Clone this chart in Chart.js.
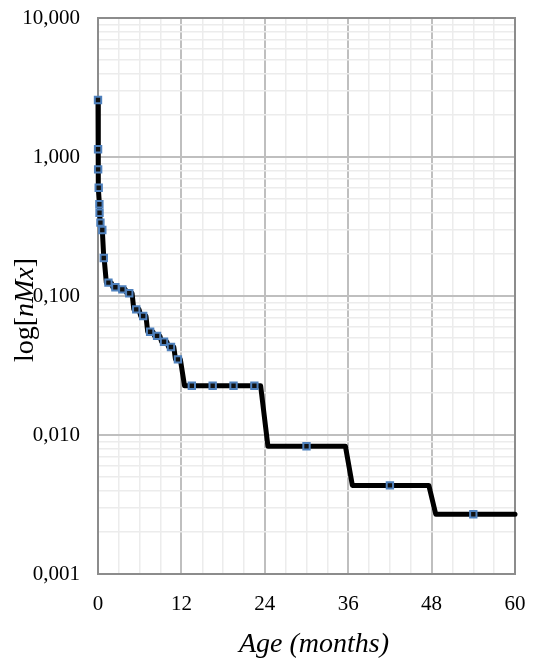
<!DOCTYPE html>
<html><head><meta charset="utf-8">
<script src="https://cdn.jsdelivr.net/npm/chart.js@4/dist/chart.umd.min.js"></script>
<style>html,body{margin:0;padding:0;background:#fff}#wrap{width:537px;height:662px;position:relative}</style>
</head><body><div id="wrap"><canvas id="c" width="537" height="662"></canvas></div>
<script>
// Marker points (age in months, rate nMx)
const markerAges  = [0, 0.01, 0.02, 0.1, 0.2, 0.22, 0.35, 0.62, 0.83, 1.5, 2.5, 3.5, 4.5, 5.5, 6.5, 7.5, 8.5, 9.5, 10.5, 11.5, 13.5, 16.5, 19.5, 22.5, 30, 42, 54];
const markerRates = [2.57, 1.136, 0.815, 0.601, 0.457, 0.397, 0.337, 0.2985, 0.1877, 0.1247, 0.1156, 0.1117, 0.1046, 0.0802, 0.0718, 0.0553, 0.0516, 0.0469, 0.0430, 0.0350, 0.0226, 0.0226, 0.0226, 0.0226, 0.0083, 0.00434, 0.00269];
// Step curve path
const curveAges  = [0, 0.01, 0.02, 0.1, 0.2, 0.22, 0.35, 0.62, 0.83, 0.88, 1.2, 1.9, 2.15, 2.9, 3.15, 3.9, 4.15, 4.9, 5.15, 5.9, 6.15, 6.9, 7.15, 7.9, 8.15, 8.9, 9.15, 9.9, 10.15, 10.9, 11.15, 11.85, 12.45, 23.4, 24.45, 35.6, 36.6, 47.6, 48.6, 60];
const curveRates = [2.57, 1.136, 0.815, 0.601, 0.457, 0.397, 0.337, 0.2985, 0.1877, 0.1877, 0.1247, 0.1247, 0.1156, 0.1156, 0.1117, 0.1117, 0.1046, 0.1046, 0.0802, 0.0802, 0.0718, 0.0718, 0.0553, 0.0553, 0.0516, 0.0516, 0.0469, 0.0469, 0.0430, 0.0430, 0.0350, 0.0350, 0.0226, 0.0226, 0.0083, 0.0083, 0.00434, 0.00434, 0.00269, 0.00269];
// Axis ticks
const xTickValues = [0, 3, 6, 9, 12, 15, 18, 21, 24, 27, 30, 33, 36, 39, 42, 45, 48, 51, 54, 57, 60];
const xTickLabels = ['0', '12', '24', '36', '48', '60'];
const yDecades = [0.001, 0.01, 0.1, 1, 10];
const yTickLabels = ['0,001', '0,010', '0,100', '1,000', '10,000'];
const xTitle = 'Age (months)';

const FONT = '"Liberation Serif", "Times New Roman", serif';
const yTickValues = [];
for (let d = 0; d < yDecades.length - 1; d++) {
  for (let m = 1; m <= 9; m++) yTickValues.push(+(m * yDecades[d]).toPrecision(6));
}
yTickValues.push(yDecades[yDecades.length - 1]);
const isDecade = v => yDecades.some(d => Math.abs(v - d) / d < 1e-6);

const boxPlugin = {
  id: 'box',
  beforeDatasetsDraw(chart) {
    const {ctx, chartArea: a} = chart;
    ctx.save();
    ctx.strokeStyle = '#8c8c8c';
    ctx.lineWidth = 2;
    ctx.strokeRect(a.left, a.top, a.right - a.left, a.bottom - a.top);
    ctx.restore();
  }
};
const titlePlugin = {
  id: 'titles',
  afterDraw(chart) {
    const ctx = chart.ctx;
    ctx.save();
    ctx.fillStyle = '#000';
    ctx.textBaseline = 'alphabetic';
    ctx.textAlign = 'center';
    ctx.font = 'italic 28px ' + FONT;
    ctx.fillText(xTitle, 314, 652);
    const parts = [['log[', 'normal'], ['nMx', 'italic'], [']', 'normal']];
    ctx.translate(26, 310);
    ctx.rotate(-Math.PI / 2);
    ctx.textBaseline = 'middle';
    ctx.textAlign = 'left';
    let total = 0;
    const widths = parts.map(p => { ctx.font = p[1] + ' 28px ' + FONT; const w = ctx.measureText(p[0]).width; total += w; return w; });
    let x = -total / 2;
    parts.forEach((p, i) => { ctx.font = p[1] + ' 28px ' + FONT; ctx.fillText(p[0], x, 0); x += widths[i]; });
    ctx.restore();
  }
};

new Chart(document.getElementById('c'), {
  type: 'scatter',
  data: {
    datasets: [
      {
        data: markerAges.map((x, i) => ({x, y: markerRates[i]})),
        showLine: false, pointStyle: 'rect', pointRadius: 4.5,
        backgroundColor: '#111', borderColor: '#4f81bd', borderWidth: 2, clip: false
      },
      {
        data: curveAges.map((x, i) => ({x, y: curveRates[i]})),
        showLine: true, borderColor: '#000', borderWidth: 5, pointRadius: 0,
        borderJoinStyle: 'round', borderCapStyle: 'round', tension: 0, clip: false
      }
    ]
  },
  options: {
    responsive: false, animation: false, devicePixelRatio: 1, events: [],
    plugins: {legend: {display: false}, tooltip: {enabled: false}},
    layout: {padding: {top: 18, right: 22, left: 0, bottom: 0}},
    scales: {
      x: {
        type: 'linear', min: 0, max: 60,
        afterBuildTicks: s => { s.ticks = xTickValues.map(v => ({value: v})); },
        afterFit: s => { s.height = 88; s.paddingLeft = 0; s.paddingRight = 0; },
        border: {display: false},
        grid: {
          drawTicks: false,
          color: c => (c.tick && c.tick.value % 12 === 0) ? '#bfbfbf' : '#ececec',
          lineWidth: c => (c.tick && c.tick.value % 12 === 0) ? 2 : 1.5
        },
        ticks: {
          autoSkip: false, maxRotation: 0, padding: 18, color: '#000',
          font: {family: FONT, size: 21},
          callback: v => (v % 12 === 0) ? xTickLabels[v / 12] : ''
        }
      },
      y: {
        type: 'logarithmic', min: 0.001, max: 10,
        afterBuildTicks: s => { s.ticks = yTickValues.map(v => ({value: v, major: isDecade(v)})); },
        afterFit: s => { s.width = 98; s.paddingTop = 0; s.paddingBottom = 0; },
        border: {display: false},
        grid: {
          drawTicks: false,
          color: c => (c.tick && isDecade(c.tick.value)) ? '#bfbfbf' : '#ececec',
          lineWidth: c => (c.tick && isDecade(c.tick.value)) ? 2 : 1.5
        },
        ticks: {
          autoSkip: false, padding: 18, color: '#000',
          font: {family: FONT, size: 21},
          callback: v => { const i = yDecades.findIndex(d => Math.abs(v - d) / d < 1e-6); return i >= 0 ? yTickLabels[i] : ''; }
        }
      }
    }
  },
  plugins: [boxPlugin, titlePlugin]
});
</script></body></html>
